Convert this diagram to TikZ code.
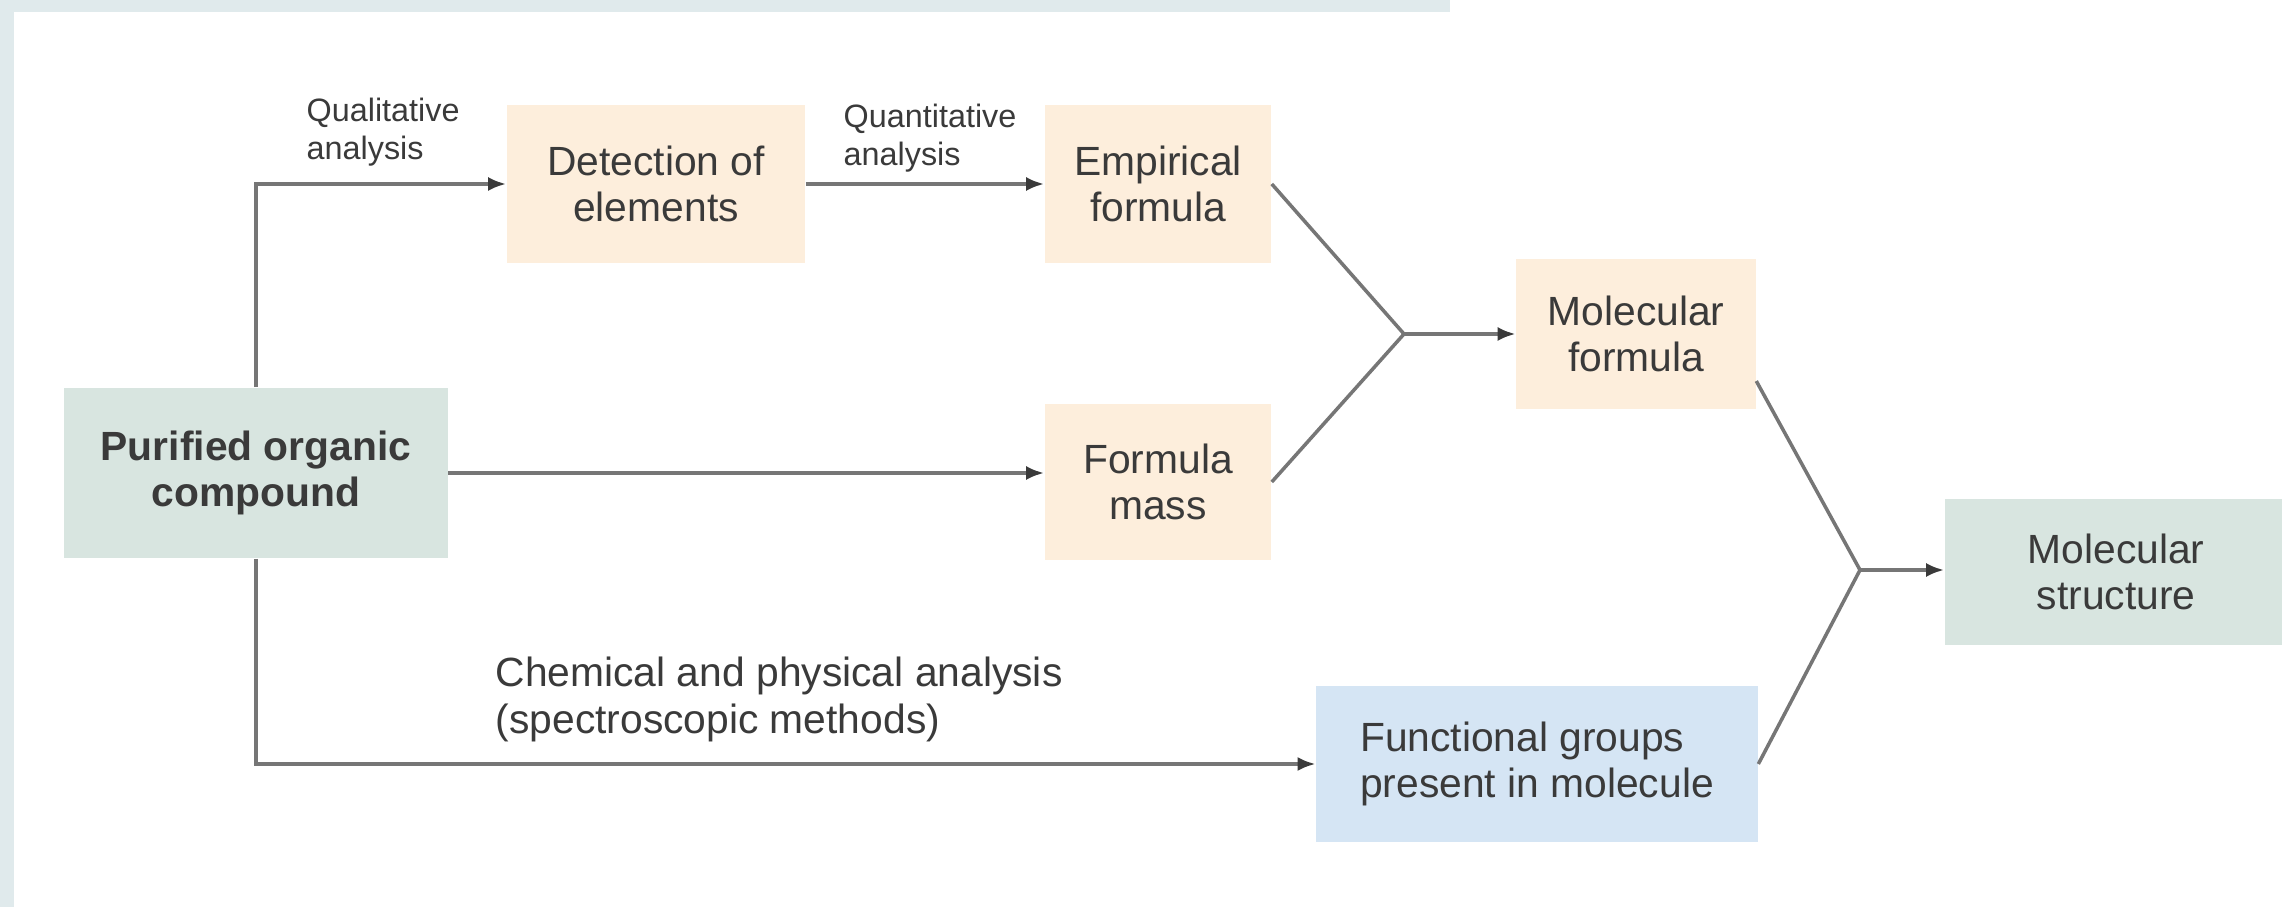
\documentclass[tikz,border=0pt]{standalone}
\usepackage{fontspec}
\setmainfont{Liberation Sans}
\usetikzlibrary{arrows.meta}
\definecolor{peach}{HTML}{FDEEDC}
\definecolor{sage}{HTML}{D8E5E0}
\definecolor{sky}{HTML}{D5E5F4}
\definecolor{ink}{HTML}{3A3A3A}
\definecolor{wire}{HTML}{767676}
\definecolor{edge}{HTML}{E0EAEC}
\begin{document}
\begin{tikzpicture}[x=0.01cm,y=-0.01cm,text=ink,
  font=\fontsize{11.6}{13.3}\selectfont,
  c/.style={align=center,inner sep=0pt},
  lbl/.style={align=left,inner sep=0pt,anchor=north west},
  ln/.style={draw=wire,line width=1pt},
  ar/.style={draw=wire,line width=1.2pt,-{Latex[length=1.8mm,width=1.4mm,color=ink]}}]
  \useasboundingbox (0,0) rectangle (2282,907);
  \fill[white] (0,0) rectangle (2282,907);
  \fill[edge] (0,0) rectangle (14,907);
  \fill[edge] (0,0) rectangle (1450,12);
  \node[c,fill=sage,minimum width=3.83cm,minimum height=1.70cm,font=\fontsize{11.6}{13.3}\selectfont\bfseries]
    (pur) at (256,473) {Purified organic\\compound};
  \node[c,fill=peach,minimum width=2.98cm,minimum height=1.57cm] (det) at (656,184) {Detection of\\elements};
  \node[c,fill=peach,minimum width=2.26cm,minimum height=1.57cm] (emp) at (1158,184) {Empirical\\formula};
  \node[c,fill=peach,minimum width=2.26cm,minimum height=1.55cm] (mass) at (1158,482) {Formula\\mass};
  \node[c,fill=peach,minimum width=2.39cm,minimum height=1.50cm] (mf) at (1636,334) {Molecular\\formula};
  \node[c,fill=sage,minimum width=3.42cm,minimum height=1.45cm] (ms) at (2116,572) {Molecular\\structure};
  \node[c,fill=sky,minimum width=4.41cm,minimum height=1.55cm,align=left] (fg) at (1537,764)
    {Functional groups\\present in molecule};
  \node[lbl,font=\fontsize{9.2}{10.8}\selectfont] (qual) at (306,97) {Qualitative\\analysis};
  \node[lbl,font=\fontsize{9.2}{10.8}\selectfont] (quan) at (843,103) {Quantitative\\analysis};
  \node[lbl] (chem) at (495,656) {Chemical and physical analysis\\(spectroscopic methods)};
  \coordinate (j1) at (1404,334);
  \coordinate (j2) at (1860,570);
  % ramas que se juntan en un punto antes de cada flecha
  \draw[ar] (pur.north) |- (det.west); \draw[ar] (det.east) -- (emp.west);
  \draw[ar] (pur.east) -- (pur.east -| mass.west);
  \draw[ar] (pur.south) |- (fg.west);
  \draw[ln] (emp.east) -- (j1); \draw[ln] (mass.east) -- (j1);
  \draw[ar] (j1) -- (j1 -| mf.west);
  \draw[ln] ([yshift=-0.47cm]mf.east) -- (j2); \draw[ln] (fg.east) -- (j2);
  \draw[ar] (j2) -- (j2 -| ms.west);
\end{tikzpicture}
\end{document}
